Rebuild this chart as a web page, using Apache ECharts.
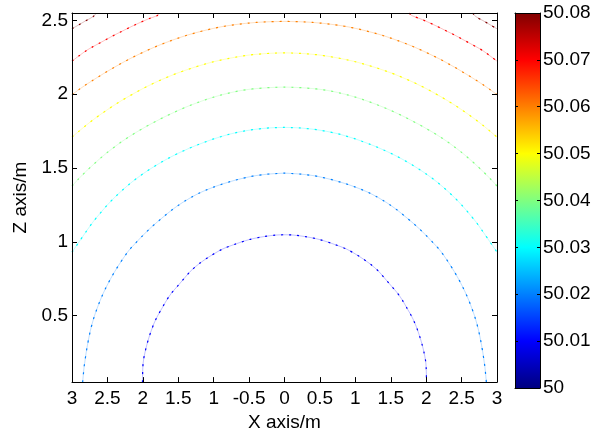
<!DOCTYPE html>
<html>
<head>
<meta charset="utf-8">
<script src="https://cdn.jsdelivr.net/npm/echarts@6/dist/echarts.min.js"></script>
<style>
html,body{margin:0;padding:0;background:#fff;}
#chart{width:605px;height:437px;}
</style>
</head>
<body>
<div id="chart"></div>
<script>
// ---- axes / ticks ----
const xMin = -3, xMax = 3, xStep = 0.5;
const xTickLabels = ['3','2.5','2','1.5','1','-0.5','0','0.5','1','1.5','2','2.5','3'];
const zMin = 0.05, zMax = 2.55;
const zTickValues = [0.5, 1, 1.5, 2, 2.5];
const cbMin = 50, cbMax = 50.08;
const cbTickValues = [50, 50.01, 50.02, 50.03, 50.04, 50.05, 50.06, 50.07, 50.08];
const cbLabels = ['50','50.01','50.02','50.03','50.04','50.05','50.06','50.07','50.08'];

// ---- contour levels ----
const levels = [50.01, 50.02, 50.03, 50.04, 50.05, 50.06, 50.07, 50.08];

const c1 = [[
  [-2.005,0.05],[-2.00,0.15],[-1.99,0.20],[-1.97,0.25],[-1.945,0.30],[-1.915,0.35],[-1.88,0.40],[-1.84,0.45],
  [-1.79,0.50],[-1.73,0.55],[-1.67,0.60],[-1.60,0.65],[-1.51,0.70],[-1.42,0.75],[-1.33,0.80],[-1.21,0.85],
  [-1.06,0.90],[-0.88,0.95],[-0.71,0.982],[-0.50,1.015],[-0.30,1.035],[-0.12,1.046],[0,1.048],
  [0.12,1.046],[0.30,1.035],[0.50,1.015],[0.71,0.982],[0.88,0.95],[1.06,0.90],[1.21,0.85],[1.33,0.80],
  [1.42,0.75],[1.51,0.70],[1.60,0.65],[1.67,0.60],[1.73,0.55],[1.79,0.50],[1.84,0.45],[1.88,0.40],
  [1.915,0.35],[1.945,0.30],[1.97,0.25],[1.99,0.20],[2.00,0.15],[2.005,0.05]
]];
const c2 = [[
  [-2.85,0.05],[-2.84,0.10],[-2.83,0.15],[-2.815,0.20],[-2.80,0.25],[-2.782,0.30],[-2.762,0.35],[-2.74,0.40],
  [-2.713,0.45],[-2.682,0.50],[-2.645,0.55],[-2.605,0.60],[-2.56,0.65],[-2.51,0.70],[-2.455,0.75],[-2.395,0.80],
  [-2.33,0.85],[-2.26,0.90],[-2.2,0.94],[-2.1,0.993],[-2.0,1.043],[-1.9,1.09],[-1.8,1.133],[-1.7,1.173],
  [-1.6,1.212],[-1.5,1.247],[-1.4,1.278],[-1.3,1.306],[-1.2,1.331],[-1.1,1.352],[-1.0,1.371],[-0.9,1.388],
  [-0.8,1.403],[-0.7,1.417],[-0.6,1.429],[-0.5,1.44],[-0.4,1.449],[-0.3,1.455],[-0.2,1.46],[-0.1,1.463],[0,1.465],
  [0.1,1.463],[0.2,1.46],[0.3,1.455],[0.4,1.449],[0.5,1.44],[0.6,1.429],[0.7,1.417],[0.8,1.403],[0.9,1.388],
  [1.0,1.371],[1.1,1.352],[1.2,1.331],[1.3,1.306],[1.4,1.278],[1.5,1.247],[1.6,1.212],[1.7,1.173],[1.8,1.133],
  [1.9,1.09],[2.0,1.043],[2.1,0.993],[2.2,0.94],[2.26,0.90],[2.33,0.85],[2.395,0.80],[2.455,0.75],[2.51,0.70],
  [2.56,0.65],[2.605,0.60],[2.645,0.55],[2.682,0.50],[2.713,0.45],[2.74,0.40],[2.762,0.35],[2.782,0.30],
  [2.80,0.25],[2.815,0.20],[2.83,0.15],[2.84,0.10],[2.85,0.05]
]];
const c3 = [[
  [-3.0,0.93],[-2.9,1.0],[-2.8,1.07],[-2.7,1.137],[-2.6,1.195],[-2.5,1.25],[-2.4,1.30],[-2.3,1.345],
  [-2.2,1.387],[-2.1,1.425],[-2.0,1.46],[-1.9,1.492],[-1.8,1.522],[-1.7,1.55],[-1.6,1.576],[-1.5,1.60],
  [-1.4,1.622],[-1.3,1.643],[-1.2,1.662],[-1.1,1.68],[-1.0,1.697],[-0.9,1.712],[-0.8,1.726],[-0.7,1.738],
  [-0.6,1.748],[-0.5,1.756],[-0.4,1.763],[-0.3,1.768],[-0.2,1.772],[-0.1,1.774],[0,1.775],
  [0.1,1.774],[0.2,1.772],[0.3,1.768],[0.4,1.763],[0.5,1.756],[0.6,1.748],[0.7,1.738],[0.8,1.726],
  [0.9,1.712],[1.0,1.697],[1.1,1.68],[1.2,1.662],[1.3,1.643],[1.4,1.622],[1.5,1.60],[1.6,1.576],
  [1.7,1.55],[1.8,1.522],[1.9,1.492],[2.0,1.46],[2.1,1.425],[2.2,1.387],[2.3,1.345],[2.4,1.30],
  [2.5,1.25],[2.6,1.195],[2.7,1.137],[2.8,1.07],[2.9,1.0],[3.0,0.93]
]];
const c4 = [[
  [-3.0,1.378],[-2.9,1.43],[-2.8,1.478],[-2.7,1.523],[-2.6,1.566],[-2.5,1.606],[-2.4,1.643],[-2.3,1.678],
  [-2.2,1.71],[-2.1,1.74],[-2.0,1.768],[-1.9,1.795],[-1.8,1.82],[-1.7,1.845],[-1.6,1.868],[-1.5,1.89],
  [-1.4,1.911],[-1.3,1.93],[-1.2,1.948],[-1.1,1.965],[-1.0,1.98],[-0.9,1.994],[-0.8,2.006],[-0.7,2.017],
  [-0.6,2.026],[-0.5,2.033],[-0.4,2.038],[-0.3,2.042],[-0.2,2.045],[-0.1,2.047],[0,2.048],
  [0.1,2.047],[0.2,2.045],[0.3,2.042],[0.4,2.038],[0.5,2.033],[0.6,2.026],[0.7,2.017],[0.8,2.006],
  [0.9,1.994],[1.0,1.98],[1.1,1.965],[1.2,1.948],[1.3,1.93],[1.4,1.911],[1.5,1.89],[1.6,1.868],
  [1.7,1.845],[1.8,1.82],[1.9,1.795],[2.0,1.768],[2.1,1.74],[2.2,1.71],[2.3,1.678],[2.4,1.643],
  [2.5,1.606],[2.6,1.566],[2.7,1.523],[2.8,1.478],[2.9,1.43],[3.0,1.378]
]];
const c5 = [[
  [-3.0,1.71],[-2.9,1.75],[-2.8,1.79],[-2.7,1.827],[-2.6,1.862],[-2.5,1.895],[-2.4,1.927],[-2.3,1.957],
  [-2.2,1.985],[-2.1,2.012],[-2.0,2.038],[-1.9,2.062],[-1.8,2.085],[-1.7,2.106],[-1.6,2.126],[-1.5,2.145],
  [-1.4,2.162],[-1.3,2.178],[-1.2,2.193],[-1.1,2.207],[-1.0,2.22],[-0.9,2.231],[-0.8,2.241],[-0.7,2.25],
  [-0.6,2.258],[-0.5,2.265],[-0.4,2.27],[-0.3,2.274],[-0.2,2.277],[-0.1,2.279],[0,2.28],
  [0.1,2.279],[0.2,2.277],[0.3,2.274],[0.4,2.27],[0.5,2.265],[0.6,2.258],[0.7,2.25],[0.8,2.241],
  [0.9,2.231],[1.0,2.22],[1.1,2.207],[1.2,2.193],[1.3,2.178],[1.4,2.162],[1.5,2.145],[1.6,2.126],
  [1.7,2.106],[1.8,2.085],[1.9,2.062],[2.0,2.038],[2.1,2.012],[2.2,1.985],[2.3,1.957],[2.4,1.927],
  [2.5,1.895],[2.6,1.862],[2.7,1.827],[2.8,1.79],[2.9,1.75],[3.0,1.71]
]];
const c6 = [[
  [-3.0,1.997],[-2.9,2.032],[-2.8,2.065],[-2.7,2.096],[-2.6,2.126],[-2.5,2.155],[-2.4,2.183],[-2.3,2.21],
  [-2.2,2.236],[-2.1,2.26],[-2.0,2.283],[-1.9,2.305],[-1.8,2.326],[-1.7,2.345],[-1.6,2.363],[-1.5,2.38],
  [-1.4,2.396],[-1.3,2.41],[-1.2,2.423],[-1.1,2.435],[-1.0,2.446],[-0.9,2.456],[-0.8,2.464],[-0.7,2.471],
  [-0.6,2.477],[-0.5,2.482],[-0.4,2.486],[-0.3,2.489],[-0.2,2.491],[-0.1,2.492],[0,2.493],
  [0.1,2.492],[0.2,2.491],[0.3,2.489],[0.4,2.486],[0.5,2.482],[0.6,2.477],[0.7,2.471],[0.8,2.464],
  [0.9,2.456],[1.0,2.446],[1.1,2.435],[1.2,2.423],[1.3,2.41],[1.4,2.396],[1.5,2.38],[1.6,2.363],
  [1.7,2.345],[1.8,2.326],[1.9,2.305],[2.0,2.283],[2.1,2.26],[2.2,2.236],[2.3,2.21],[2.4,2.183],
  [2.5,2.155],[2.6,2.126],[2.7,2.096],[2.8,2.065],[2.9,2.032],[3.0,1.997]
]];
const c7 = [
  [[-3.0,2.224],[-2.9,2.26],[-2.8,2.295],[-2.7,2.323],[-2.6,2.349],[-2.5,2.375],[-2.4,2.401],[-2.3,2.425],
   [-2.2,2.449],[-2.1,2.472],[-2.0,2.494],[-1.9,2.514],[-1.8,2.532],[-1.76,2.55]],
  [[1.76,2.55],[1.8,2.532],[1.9,2.514],[2.0,2.494],[2.1,2.472],[2.2,2.449],[2.3,2.425],[2.4,2.401],
   [2.5,2.375],[2.6,2.349],[2.7,2.323],[2.8,2.295],[2.9,2.26],[3.0,2.224]]
];
const c8 = [
  [[-3.0,2.443],[-2.9,2.471],[-2.8,2.499],[-2.7,2.526],[-2.655,2.55]],
  [[2.655,2.55],[2.7,2.526],[2.8,2.499],[2.9,2.471],[3.0,2.443]]
];
const contours = [c1, c2, c3, c4, c5, c6, c7, c8];

// ---- styles ----
const levelColors = ['#0000FF','#0080FF','#00FFFF','#80FF80','#FFFF00','#FF8000','#FF0000','#800000'];
const FONT = 'Liberation Sans, Arial, sans-serif';
const FS = 19;

const chart = echarts.init(document.getElementById('chart'), null, {renderer: 'canvas'});

const series = [];
contours.forEach((segs, li) => {
  segs.forEach(seg => {
    series.push({
      type: 'line', xAxisIndex: 0, yAxisIndex: 0, data: seg, symbol: 'none', smooth: 0.3,
      lineStyle: {color: levelColors[li], width: 1, opacity: 0.25}, silent: true, z: 2
    });
    series.push({
      type: 'line', xAxisIndex: 0, yAxisIndex: 0, data: seg, symbol: 'none', smooth: 0.3,
      lineStyle: {color: levelColors[li], width: 1.2, type: [2, 6]}, silent: true, z: 3
    });
  });
});

const jet = new echarts.graphic.LinearGradient(0, 0, 0, 1, [
  {offset: 0, color: '#800000'},
  {offset: 0.125, color: '#FF0000'},
  {offset: 0.375, color: '#FFFF00'},
  {offset: 0.625, color: '#00FFFF'},
  {offset: 0.875, color: '#0000FF'},
  {offset: 1, color: '#000080'}
]);

series.push({
  type: 'custom', xAxisIndex: 2, yAxisIndex: 2, silent: true, z: 1,
  data: [[0, cbMin, 1, cbMax]],
  encode: {x: [0, 2], y: [1, 3]},
  renderItem: function (params, api) {
    const p0 = api.coord([api.value(0), api.value(1)]);
    const p1 = api.coord([api.value(2), api.value(3)]);
    return {type: 'rect', shape: {x: p0[0], y: p1[1], width: p1[0] - p0[0], height: p0[1] - p1[1]}, style: {fill: jet}};
  }
});

const axLine = {show: true, onZero: false, lineStyle: {color: '#000', width: 1}};
const lbl = {color: '#000', fontSize: FS, fontFamily: FONT};

chart.setOption({
  animation: false,
  backgroundColor: '#fff',
  grid: [
    {left: 72, top: 13, width: 425, height: 375},
    {left: 515, top: 13, width: 25, height: 375}
  ],
  xAxis: [
    {gridIndex: 0, type: 'value', position: 'bottom', min: xMin, max: xMax, interval: xStep,
     axisLine: axLine, splitLine: {show: false},
     axisTick: {inside: true, length: 5, lineStyle: {color: '#000'}},
     axisLabel: Object.assign({margin: 7, formatter: v => xTickLabels[Math.round((v - xMin) / xStep)]}, lbl),
     name: 'X axis/m', nameLocation: 'middle', nameGap: 30, nameTextStyle: lbl, z: 10},
    {gridIndex: 0, type: 'value', position: 'top', min: xMin, max: xMax, interval: xStep,
     axisLine: axLine, splitLine: {show: false},
     axisTick: {inside: true, length: 5, lineStyle: {color: '#000'}},
     axisLabel: {show: false}, z: 10},
    {gridIndex: 1, type: 'value', position: 'bottom', min: 0, max: 1,
     axisLine: axLine, splitLine: {show: false}, axisTick: {show: false}, axisLabel: {show: false}, z: 10},
    {gridIndex: 1, type: 'value', position: 'top', min: 0, max: 1,
     axisLine: axLine, splitLine: {show: false}, axisTick: {show: false}, axisLabel: {show: false}, z: 10}
  ],
  yAxis: [
    {gridIndex: 0, type: 'value', position: 'left', min: zMin, max: zMax,
     axisLine: axLine, splitLine: {show: false},
     axisTick: {inside: true, length: 5, customValues: zTickValues, lineStyle: {color: '#000'}},
     axisLabel: Object.assign({margin: 4, customValues: zTickValues}, lbl),
     name: 'Z axis/m', nameLocation: 'middle', nameGap: 34, nameRotate: 90, nameTextStyle: lbl, z: 10},
    {gridIndex: 0, type: 'value', position: 'right', min: zMin, max: zMax,
     axisLine: axLine, splitLine: {show: false},
     axisTick: {inside: true, length: 5, customValues: zTickValues, lineStyle: {color: '#000'}},
     axisLabel: {show: false}, z: 10},
    {gridIndex: 1, type: 'value', position: 'right', min: cbMin, max: cbMax,
     axisLine: axLine, splitLine: {show: false},
     axisTick: {inside: true, length: 3, customValues: cbTickValues, lineStyle: {color: '#000'}},
     axisLabel: Object.assign({margin: 3, customValues: cbTickValues,
       formatter: v => cbLabels[Math.round((v - cbMin) * 100)]}, lbl), z: 10},
    {gridIndex: 1, type: 'value', position: 'left', min: cbMin, max: cbMax,
     axisLine: axLine, splitLine: {show: false},
     axisTick: {inside: true, length: 3, customValues: cbTickValues, lineStyle: {color: '#000'}},
     axisLabel: {show: false}, z: 10}
  ],
  series: series
});
</script>
</body>
</html>
